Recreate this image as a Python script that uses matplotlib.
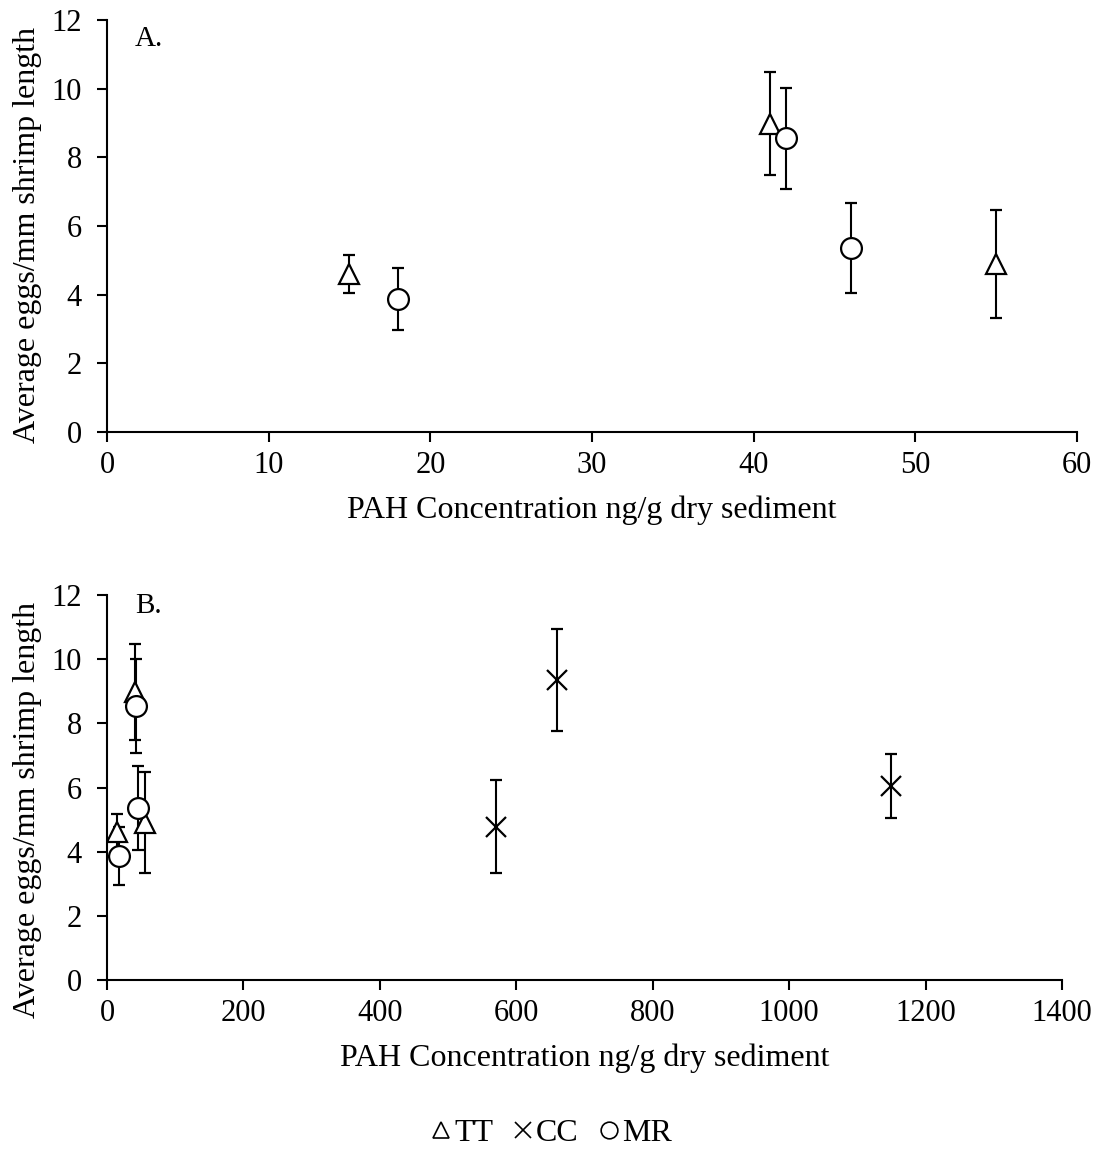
import matplotlib
matplotlib.use("Agg")
import matplotlib.pyplot as plt
from matplotlib.lines import Line2D

plt.rcParams['font.family'] = ['Liberation Serif', 'DejaVu Serif']

# PAH concentration (ng/g dry sediment), mean eggs/mm shrimp length, error
tt_x = [15, 41, 55]
tt_y = [4.6, 8.98, 4.9]
tt_err = [0.56, 1.5, 1.57]

mr_x = [18, 42, 46]
mr_y = [3.87, 8.55, 5.35]
mr_err = [0.9, 1.47, 1.31]

cc_x = [570, 660, 1150]
cc_y = [4.77, 9.35, 6.05]
cc_err = [1.45, 1.6, 1.0]

xlabel = "PAH Concentration ng/g dry sediment"
ylabel = "Average eggs/mm shrimp length"

fig = plt.figure(figsize=(11.02, 11.52), dpi=100)
axA = fig.add_axes([0.0971, 0.625, 0.8802, 0.3576])
axB = fig.add_axes([0.0971, 0.1493, 0.8666, 0.3342])

ms = 15
ekw = dict(color='black', ecolor='black', elinewidth=1.5, capsize=4.5,
           capthick=1.5, linestyle='none', markeredgewidth=1.6,
           markerfacecolor='white', markeredgecolor='black', markersize=ms)


def draw(ax, include_cc):
    ax.errorbar(tt_x, tt_y, yerr=tt_err, marker='^', **ekw)
    ax.errorbar(mr_x, mr_y, yerr=mr_err, marker='o', **ekw)
    if include_cc:
        ax.errorbar(cc_x, cc_y, yerr=cc_err, marker='x', **ekw)
    for s in ['top', 'right']:
        ax.spines[s].set_visible(False)
    for s in ['left', 'bottom']:
        ax.spines[s].set_linewidth(1.5)
    ax.tick_params(direction='out', length=7, width=1.5, labelsize=22)
    ax.tick_params(axis='x', pad=7)
    ax.tick_params(axis='y', pad=11)
    ax.set_ylim(0, 12)
    ax.set_yticks(range(0, 13, 2))
    ax.set_xlabel(xlabel, fontsize=23, va='top')
    ax.set_ylabel(ylabel, fontsize=23)


draw(axA, False)
axA.set_xlim(0, 60)
axA.set_xticks(range(0, 61, 10))
axA.xaxis.set_label_coords(0.5, -0.155)
axA.yaxis.set_label_coords(-0.067, 0.478)
axA.text(0.029, 0.937, "A.", transform=axA.transAxes, fontsize=21,
         va='baseline')

draw(axB, True)
axB.set_xlim(0, 1400)
axB.set_xticks(range(0, 1401, 200))
axB.xaxis.set_label_coords(0.5, -0.164)
axB.yaxis.set_label_coords(-0.068, 0.442)
axB.text(0.029, 0.953, "B.", transform=axB.transAxes, fontsize=21,
         va='baseline')

lkw = dict(linestyle='none', markersize=12, markeredgewidth=1.2)
handles = [
    Line2D([], [], marker='^', markerfacecolor='white',
           markeredgecolor='black', **lkw),
    Line2D([], [], marker='x', color='black', **lkw),
    Line2D([], [], marker='o', markerfacecolor='white',
           markeredgecolor='black', **lkw),
]
fig.legend(handles, ["TT", "CC", "MR"], loc='center',
           bbox_to_anchor=(0.5, 0.016), ncol=3, frameon=False, fontsize=23,
           handlelength=0.7, handletextpad=0.05, columnspacing=0.6,
           borderpad=0, borderaxespad=0)

fig.savefig("out.png", dpi=100)
